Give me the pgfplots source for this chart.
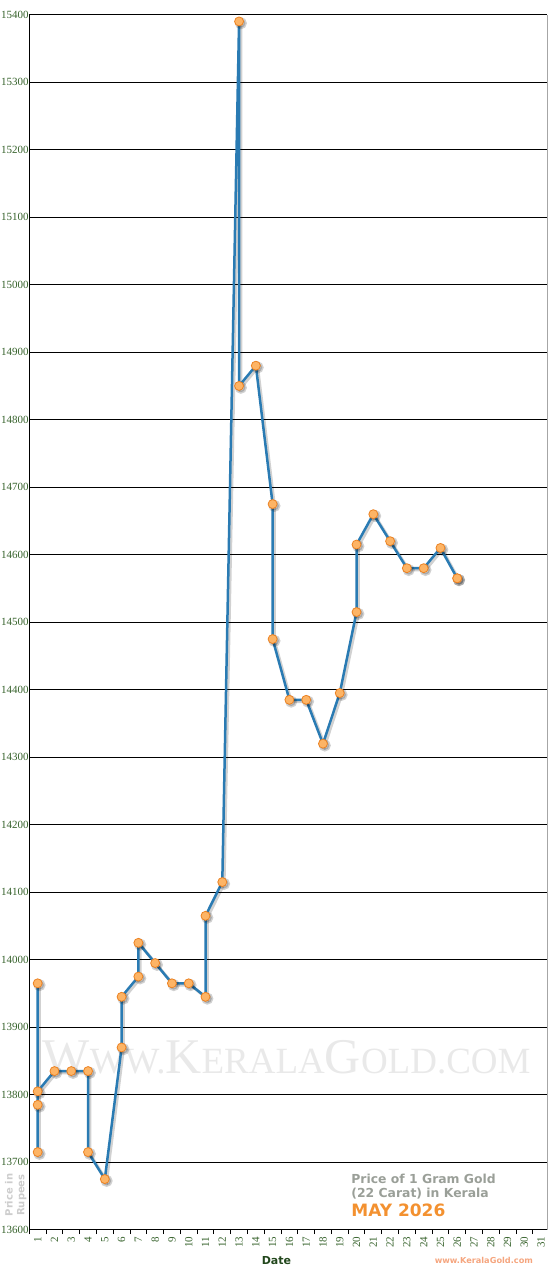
\documentclass[border=0pt]{standalone}
\usepackage{pgfplots}
\pgfplotsset{compat=1.18}
\usepackage{fontspec}
\setmainfont{Liberation Serif}
\newfontfamily\vsans{DejaVu Sans}

\definecolor{lineblue}{HTML}{2A7BB3}
\definecolor{dotfill}{HTML}{FDB465}
\definecolor{dotedge}{HTML}{EC8222}
\definecolor{tickgreen}{HTML}{35612A}
\definecolor{dategreen}{HTML}{22471C}
\definecolor{notegray}{HTML}{9A9F98}
\definecolor{mayorange}{HTML}{F39130}
\definecolor{siteorange}{HTML}{F5A57E}
\definecolor{wmgray}{HTML}{E9E9E9}
\definecolor{ylabgray}{HTML}{CDCDCD}

\begin{document}
\begin{tikzpicture}
\begin{axis}[
  scale only axis,
  width=517.7bp, height=1215bp,
  xmin=0.5, xmax=31.35,
  ymin=13600, ymax=15400,
  axis x line=bottom, axis y line=left,
  axis line style={-, black, line width=0.9bp},
  xtick={1,...,31},
  minor xtick={0.5,1.5,...,30.5},
  major x tick style={draw=none},
  minor x tick style={black, line width=0.9bp},
  major tick length=0pt,
  minor tick length=4.5bp,
  tick align=outside,
  ytick={13600,13700,...,15400},
  major y tick style={draw=none},
  scaled y ticks=false,
  ymajorgrids,
  grid style={black, line width=0.9bp},
  /pgf/number format/assume math mode=true,
  /pgf/number format/set thousands separator={},
  tick label style={font=\fontsize{11bp}{11bp}\selectfont, text=tickgreen},
  yticklabel style={inner sep=0.5bp},
  xticklabel style={inner sep=0pt, yshift=-7bp, rotate=90, anchor=east},
  clip=false,
]
% watermark
\node[anchor=base, text=wmgray, font=\fontsize{50bp}{50bp}\selectfont]
  at (rel axis cs:0.497,0.1287)
  {W{\fontsize{37bp}{37bp}\selectfont WW.}K{\fontsize{37bp}{37bp}\selectfont ERALA}G{\fontsize{37bp}{37bp}\selectfont OLD.COM}};

\draw[gray!70, line width=0.9bp] (rel axis cs:1,0) -- (rel axis cs:1,1);

% shadow
\addplot[black, opacity=0.18, line width=3bp, xshift=1.8bp, yshift=-1.8bp,
  mark=*, mark size=4.5bp, mark options={draw=none, fill=black}] coordinates {
  (1,13965)(1,13715)(1,13785)(1,13805)(2,13835)(3,13835)(4,13835)(4,13715)
  (5,13675)(6,13870)(6,13945)(7,13975)(7,14025)(8,13995)(9,13965)(10,13965)
  (11,13945)(11,14065)(12,14115)(13,15390)(13,14850)(14,14880)(15,14675)
  (15,14475)(16,14385)(17,14385)(18,14320)(19,14395)(20,14515)(20,14615)
  (21,14660)(22,14620)(23,14580)(24,14580)(25,14610)(26,14565)(26,14565)
};

\addplot[lineblue, line width=2.5bp,
  mark=*, mark size=4.5bp, mark options={draw=dotedge, fill=dotfill, line width=0.8bp}] coordinates {
  (1,13965)(1,13715)(1,13785)(1,13805)(2,13835)(3,13835)(4,13835)(4,13715)
  (5,13675)(6,13870)(6,13945)(7,13975)(7,14025)(8,13995)(9,13965)(10,13965)
  (11,13945)(11,14065)(12,14115)(13,15390)(13,14850)(14,14880)(15,14675)
  (15,14475)(16,14385)(17,14385)(18,14320)(19,14395)(20,14515)(20,14615)
  (21,14660)(22,14620)(23,14580)(24,14580)(25,14610)(26,14565)(26,14565)
};

% notes
\node[anchor=west, inner sep=0pt, text=notegray, font=\vsans\bfseries\fontsize{12.4bp}{12bp}\selectfont]
  at (axis cs:19.68,13676) {Price of 1 Gram Gold};
\node[anchor=west, inner sep=0pt, text=notegray, font=\vsans\bfseries\fontsize{12.4bp}{12bp}\selectfont]
  at (axis cs:19.68,13654) {(22 Carat) in Kerala};
\node[anchor=west, inner sep=0pt, text=mayorange, font=\vsans\bfseries\fontsize{17bp}{17bp}\selectfont]
  at (axis cs:19.68,13629) {MAY 2026};

\node[xshift=-13.5bp, rotate=90, align=center, inner sep=0pt, text=ylabgray,
  font=\vsans\bfseries\fontsize{10bp}{11.7bp}\selectfont]
  at (rel axis cs:0,0.0285) {Price in\\Rupees};

\node[yshift=-31bp, inner sep=0pt, text=dategreen, font=\vsans\bfseries\fontsize{11bp}{11bp}\selectfont]
  at (rel axis cs:0.4775,0) {Date};
\node[yshift=-30.5bp, inner sep=0pt, text=siteorange, font=\vsans\bfseries\fontsize{8.2bp}{8.2bp}\selectfont]
  at (rel axis cs:0.878,0) {www.KeralaGold.com};

\coordinate (LL) at (rel axis cs:0,0);
\coordinate (UR) at (rel axis cs:1,1);
\end{axis}
\pgfresetboundingbox
\path[use as bounding box] ([shift={(-29.3bp,-40.3bp)}]LL) rectangle ([shift={(3bp,14.7bp)}]UR);
\end{tikzpicture}
\end{document}
